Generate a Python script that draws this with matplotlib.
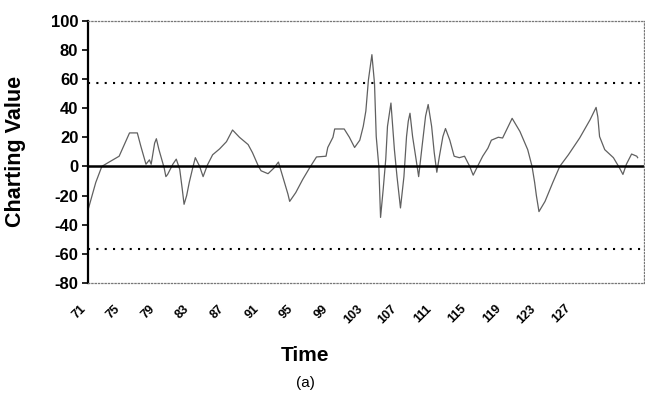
import matplotlib.pyplot as plt

plt.rcParams['font.family'] = ['Liberation Sans', 'DejaVu Sans']

# traced series (time, charting value)
time = [71.0, 71.9, 72.6, 73.3, 74.6, 75.8, 76.7, 77.1, 77.7, 78.1, 78.3, 78.7, 78.9, 79.2,
        79.8, 80.0, 80.2, 80.8, 81.2, 81.6, 81.9, 82.1, 82.4, 82.7, 83.1, 83.4, 83.9, 84.3,
        84.8, 85.4, 86.2, 87.0, 87.7, 88.5, 89.5, 90.0, 90.7, 91.0, 91.8, 92.5, 93.0, 93.3,
        93.7, 94.1, 94.3, 95.0, 95.8, 96.6, 97.4, 98.5, 98.7, 99.3, 99.5, 100.6, 101.2, 101.8,
        102.4, 102.8, 103.1, 103.4, 103.8, 104.1, 104.3, 104.6, 104.8, 105.1, 105.4, 105.6,
        106.0, 106.4, 106.7, 107.1, 107.5, 107.8, 108.0, 108.2, 108.5, 108.9, 109.2, 109.6,
        110.0, 110.3, 110.7, 111.0, 111.3, 111.6, 112.0, 112.3, 112.8, 113.3, 113.9, 114.5,
        115.1, 115.5, 116.0, 116.6, 117.2, 117.6, 118.4, 118.9, 120.0, 120.9, 121.8, 122.3,
        122.6, 122.8, 123.1, 123.8, 124.7, 125.5, 126.5, 127.8, 129.0, 129.7, 129.9, 130.1,
        130.7, 131.7, 132.4, 132.8, 133.2, 133.8, 134.4, 134.5]
value = [-30, -11, 0, 2.5, 7, 23, 23, 14, 1.5, 4.5, 1.5, 16, 19, 11.5,
         -1, -7, -5.5, 1.5, 5, -2, -16, -26, -20, -11, -1, 6, 0, -7,
         1, 8, 12, 17, 25, 20, 15, 9.5, 0, -3, -5, -1, 3, -3,
         -11, -19, -24, -18, -9, -1, 6.5, 7, 13, 20, 25.7, 25.7, 20, 13,
         18, 27.5, 38, 59.5, 76.7, 57, 20.5, 0, -35, -16, 5, 27.5,
         43.5, 11.5, -7, -28.5, -7, 20.5, 31, 36.5, 20.5, 5, -7, 14,
         34.5, 42.5, 27.5, 9.5, -4, 7, 20.5, 26, 18, 7, 6, 7,
         0, -6, 0, 7, 12.5, 18, 20, 19.5, 33, 24, 11.5, 0,
         -11, -20, -31, -24, -11, 0, 8, 19.5, 32, 40.5, 34, 20.5,
         11.5, 6, -1, -5.5, 1.5, 8.5, 7, 6]

control_limit = 57
x_ticks = [71, 75, 79, 83, 87, 91, 95, 99, 103, 107, 111, 115, 119, 123, 127]
y_ticks = [-80, -60, -40, -20, 0, 20, 40, 60, 80, 100]

fig = plt.figure(figsize=(6.45, 4.03), dpi=100)
ax = fig.add_axes([0.1364, 0.2978, 0.8616, 0.6508])

ax.plot(time, value, color='#606060', lw=0.9)
ax.axhline(0, color='black', lw=1.8)
ax.axhline(control_limit, color='black', lw=1.5, linestyle=(0, (1, 3)))
ax.axhline(-control_limit, color='black', lw=1.5, linestyle=(0, (1, 3)))

ax.set_xlim(71, 135.2)
ax.set_ylim(-80, 100)
ax.set_yticks(y_ticks)
ax.set_yticklabels([str(v) for v in y_ticks], fontsize=12, fontweight='bold')
ax.set_xticks(x_ticks)
ax.set_xticklabels([str(v) for v in x_ticks], fontsize=9, fontweight='bold',
                   rotation=45, ha='right', va='top')
ax.tick_params(axis='x', length=0, pad=14)
ax.tick_params(axis='y', length=4, width=1.2, direction='out', pad=3)

ax.spines['left'].set_linewidth(1.6)
for s in ['top', 'bottom', 'right']:
    ax.spines[s].set_linestyle(':')
    ax.spines[s].set_color('#777777')
    ax.spines[s].set_linewidth(0.9)

fig.text(0.024, 0.625, 'Charting Value', rotation=90, ha='center', va='center',
         fontsize=15.5, fontweight='bold')
fig.text(0.473, 0.118, 'Time', ha='center', va='center', fontsize=15, fontweight='bold')
fig.text(0.473, 0.05, '(a)', ha='center', va='center', fontsize=11)

fig.savefig('out.png', dpi=100)
